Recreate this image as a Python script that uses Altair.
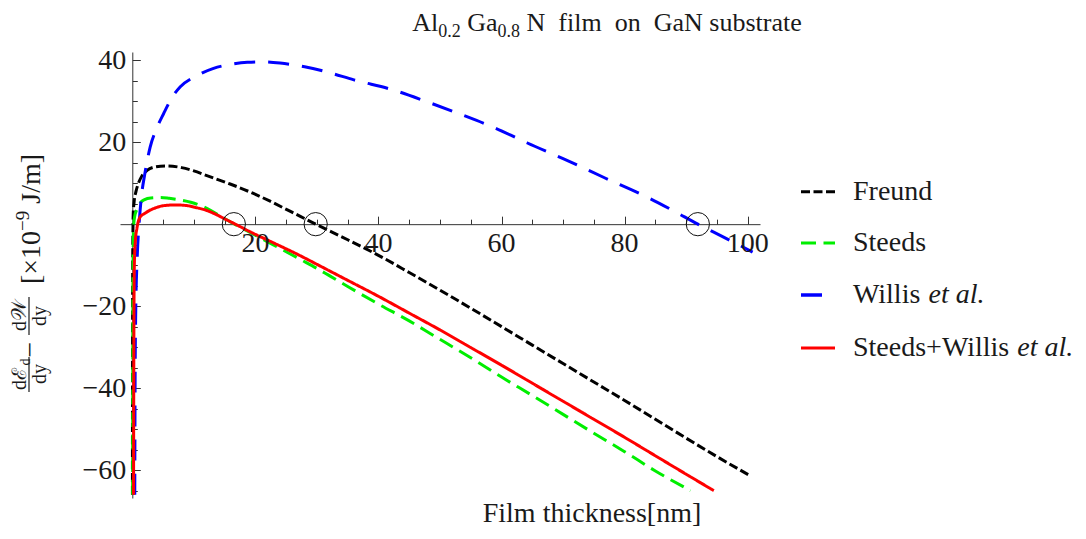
import altair as alt
import pandas as pd

# ---------------- data ----------------
series_names = ["Freund", "Steeds", "Willis et al.", "Steeds+Willis et al."]

freund_x = [0.02, 0.04, 0.06, 0.1, 0.15, 0.3, 0.6, 1, 1.5, 2.4, 3.5, 5.6, 8, 10, 12, 15.9, 19.2,
            22.4, 25.7, 27.3, 29.8, 35, 40, 45, 50, 55, 60, 65, 70, 75, 80, 85, 90, 95, 100.2]
freund_y = [-66, -30, -10, -2, 2.5, 5.5, 8, 10, 11.6, 13.1, 13.9, 14.2, 13.8, 13, 11.9, 9.8, 7.8,
            5.6, 3.1, 1.9, 0, -3.8, -7.6, -11.8, -16.1, -20.5, -25, -29.5, -34, -38.5, -43, -47.6,
            -52.2, -56.7, -61.2]

steeds_x = [0.05, 0.08, 0.12, 0.2, 0.4, 0.75, 1.3, 2, 3, 4.6, 6, 7.8, 9.5, 11, 12.7, 14.3, 16.5,
            18.6, 23, 27.3, 30, 35, 40, 45, 49, 55, 60, 65, 70, 75, 80, 85, 90.7]
steeds_y = [-66, -30, -10, -1, 2, 3.6, 5.2, 6, 6.4, 6.5, 6.3, 5.9, 5.35, 4.6, 3.4, 2.0, 0.1,
            -1.6, -5.1, -8.6, -10.8, -15.2, -19.5, -23.6, -27.2, -32.6, -37.3, -41.8, -46.4, -51,
            -55.5, -60.2, -65]

willis_x = [0.4, 0.45, 0.55, 0.8, 1.1, 1.5, 2, 2.9, 4, 5.1, 6.5, 7.8, 10.6, 13.2, 16, 18.7, 21, 24,
            28, 31.7, 36, 42.5, 48, 53, 58.7, 61.5, 64.2, 70, 76.9, 84.2, 88, 91.9, 96, 100.8]
willis_y = [-66, -40, -22, -8, 0, 7, 12, 18.8, 23.5, 27, 31, 33.5, 36.3, 38, 39, 39.5, 39.6, 39.3,
            38.4, 37.1, 35.2, 32.7, 29.8, 27, 23.6, 21.7, 19.8, 16, 11.2, 6.2, 3.2, 0, -3.1, -6.8]

sw_x = [0.2, 0.25, 0.33, 0.5, 0.75, 1.3, 2, 3, 4, 5, 7, 9, 10.5, 12, 13.7, 15.4, 17, 19.2, 23,
        27.3, 30, 35, 40, 45, 50, 55, 60, 65, 70, 75, 80, 85, 90, 94.5]
sw_y = [-66, -30, -10, -4, -1, 1.8, 2.6, 3.5, 4.1, 4.5, 4.7, 4.5, 4.0, 3.4, 2.3, 1.0, -0.2, -1.9,
        -4.6, -7.7, -9.8, -13.7, -17.6, -21.7, -25.8, -30.1, -34.4, -38.8, -43.2, -47.6, -52,
        -56.5, -61, -65]

root_x = [16.5, 29.8, 91.9]
root_y = [0, 0, 0]

x_major = [20, 40, 60, 80, 100]
x_labels = ["20", "40", "60", "80", "100"]
x_minor = [5, 10, 15, 25, 30, 35, 45, 50, 55, 65, 70, 75, 85, 90, 95]
y_major = [40, 20, -20, -40, -60]
y_labels = ["40", "20", "\u221220", "\u221240", "\u221260"]
y_minor = [35, 30, 25, 15, 10, 5, -5, -10, -15, -25, -30, -35, -45, -50, -55, -65]

# ---------------- style ----------------
FONT = "Liberation Serif"
TXT = "#1a1a1a"
AX = "#333333"
colors = ["#000000", "#00ee00", "#0000ff", "#ff0000"]
dashes = [[9, 3.5], [15, 7.5], [21, 13], [1, 0]]
widths = [3, 3, 3.5, 3]

W, H = 640, 446
XD = [-2.0, 102.0]
YD = [-66.8, 42.0]
X0 = (0 - XD[0]) / (XD[1] - XD[0]) * W
Y0 = (YD[1] - 0) / (YD[1] - YD[0]) * H
L, T = 120, 52  # page position of plot origin


def ax(v):
    return v - L


def ay(v):
    return v - T


CW = {" ": 250, "\u00a0": 250, "A": 722, "l": 278, "0": 500, "1": 500, "2": 500, "8": 500,
      "9": 500, ".": 250, "G": 722, "a": 444, "N": 722, "f": 333, "i": 278, "m": 778, "o": 500,
      "n": 500, "s": 389, "u": 500, "b": 500, "t": 278, "r": 333, "e": 444, "F": 556, "h": 500,
      "c": 444, "k": 500, "[": 333, "]": 333, "\u00d7": 564, "\u2212": 564, "J": 389, "/": 278,
      "y": 500, "d": 500, "S": 556, "W": 944, "+": 564}


def tw(s, size):
    return sum(CW.get(c, 500) for c in s) / 1000.0 * size


# ---------------- tables ----------------
rows = []
for name, xv, yv in [(series_names[0], freund_x, freund_y), (series_names[1], steeds_x, steeds_y),
                     (series_names[2], willis_x, willis_y), (series_names[3], sw_x, sw_y)]:
    for i, (a, b) in enumerate(zip(xv, yv)):
        rows.append({"series": name, "x": a, "y": b, "i": i})
df = pd.DataFrame(rows)
roots = pd.DataFrame({"x": root_x, "y": root_y})
xl = pd.DataFrame({"v": x_major, "t": x_labels})
yl = pd.DataFrame({"v": y_major, "t": y_labels})
one = pd.DataFrame({"k": [0]})

xs = alt.Scale(domain=XD, nice=False, zero=False)
ys = alt.Scale(domain=YD, nice=False, zero=False)

tk = dict(grid=False, title="", labels=False, tickColor=AX, tickWidth=1, domainColor=AX,
          domainWidth=1)
x_min = alt.Axis(orient="top", offset=-Y0, values=x_minor, tickSize=5, domain=True, **tk)
y_min = alt.Axis(orient="right", offset=-(W - X0), values=y_minor, tickSize=5, domain=True, **tk)
x_maj = alt.Axis(orient="top", offset=-Y0, values=x_major, tickSize=8, domain=False, **tk)
y_maj = alt.Axis(orient="right", offset=-(W - X0), values=y_major, tickSize=8, domain=False, **tk)

curves = alt.Chart(df).mark_line(clip=True, interpolate="monotone", strokeCap="butt").encode(
    x=alt.X("x:Q", scale=xs, axis=None),
    y=alt.Y("y:Q", scale=ys, axis=None),
    color=alt.Color("series:N", scale=alt.Scale(domain=series_names, range=colors), legend=None),
    strokeDash=alt.StrokeDash("series:N", scale=alt.Scale(domain=series_names, range=dashes),
                              legend=None),
    strokeWidth=alt.StrokeWidth("series:N", scale=alt.Scale(domain=series_names, range=widths),
                                legend=None),
    order=alt.Order("i:Q"),
)

circles = alt.Chart(roots).mark_point(shape="circle", size=540, filled=False, color="#111111",
                                      strokeWidth=1, opacity=1).encode(
    x=alt.X("x:Q", scale=xs, axis=x_min),
    y=alt.Y("y:Q", scale=ys, axis=y_min),
)

majors = alt.Chart(roots).mark_point(opacity=0).encode(
    x=alt.X("x:Q", scale=xs, axis=x_maj),
    y=alt.Y("y:Q", scale=ys, axis=y_maj),
)

# tick labels placed through the scales
xlabels = alt.Chart(xl).mark_text(font=FONT, fontSize=28, color=TXT, align="center",
                                  baseline="alphabetic").encode(
    x=alt.X("v:Q", scale=xs, axis=None), y=alt.value(ay(252)), text="t:N")
ylabels = alt.Chart(yl).mark_text(font=FONT, fontSize=28, color=TXT, align="right",
                                  baseline="alphabetic", dy=9).encode(
    x=alt.value(X0 - 6), y=alt.Y("v:Q", scale=ys, axis=None), text="t:N")


def text(s, x, y, size, align="left", baseline="alphabetic", angle=0, style="normal"):
    return alt.Chart(one).mark_text(text=s, font=FONT, fontSize=size, align=align,
                                    baseline=baseline, angle=angle, fontStyle=style,
                                    color=TXT).encode(x=alt.value(ax(x)), y=alt.value(ay(y)))


def rule(x1, y1, x2, y2, color, width, dash=None):
    kw = dict(color=color, strokeWidth=width, strokeCap="butt")
    if dash:
        kw["strokeDash"] = dash
    return alt.Chart(one).mark_rule(**kw).encode(
        x=alt.value(ax(x1)), y=alt.value(ay(y1)), x2=alt.value(ax(x2)), y2=alt.value(ay(y2)))


layers = [curves, circles, majors, xlabels, ylabels]

# ---- title with subscripts ----
TF, SF = 26, 18
pieces = [("Al", TF, 0, 0), ("0.2", SF, 6, 0), ("Ga", TF, 0, tw(" ", TF)), ("0.8", SF, 6, 0),
          ("N\u00a0\u00a0film\u00a0\u00a0on\u00a0\u00a0GaN\u00a0substrate", TF, 0, tw(" ", TF))]
total = sum(tw(p[0], p[1]) + p[3] for p in pieces)
cx = 607 - total / 2
for s, f, dy, gap in pieces:
    cx += gap
    layers.append(text(s, cx, 31 + dy, f))
    cx += tw(s, f)

# ---- x axis title ----
layers.append(text("Film thickness[nm]", 592, 514, 28, align="center", baseline="middle"))

# ---- y axis title (rotated) ----
FR = 20
layers += [
    text("d\u2130", 19.5, 379, FR, align="center", baseline="middle", angle=270),
    text("d", 26, 362, 14, align="center", baseline="middle", angle=270),
    text("dy", 39.5, 374, FR, align="center", baseline="middle", angle=270),
    rule(29, 357, 29, 392, TXT, 1.2),
    text("\u2212", 31, 349.5, 28, align="center", baseline="middle", angle=270),
    text("d\U0001D4B2", 19.5, 315.5, FR, align="center", baseline="middle", angle=270),
    text("dy", 39.5, 316, FR, align="center", baseline="middle", angle=270),
    rule(29, 297, 29, 335, TXT, 1.2),
]
yb = 284
layers.append(text("[\u00d710", 32, yb, 28, baseline="middle", angle=270))
yb -= tw("[\u00d710", 28)
layers.append(text("\u22129", 23, yb, 19, baseline="middle", angle=270))
yb -= tw("\u22129", 19) + tw(" ", 28)
layers.append(text("J/m]", 32, yb, 28, baseline="middle", angle=270))

# ---- legend ----
leg_y = [191.7, 243, 295, 348]
leg_end = [835, 835, 832, 835]
for k in range(4):
    layers.append(rule(801, leg_y[k], leg_end[k], leg_y[k], colors[k], widths[k],
                       dashes[k] if k < 3 else None))
LF = 28
layers.append(text("Freund", 853, leg_y[0], LF, baseline="middle"))
layers.append(text("Steeds", 853, leg_y[1], LF, baseline="middle"))
layers.append(text("Willis", 853, leg_y[2], LF, baseline="middle"))
layers.append(text("et al.", 853 + tw("Willis ", LF), leg_y[2], LF, baseline="middle",
                   style="italic"))
layers.append(text("Steeds+Willis", 853, leg_y[3], LF, baseline="middle"))
layers.append(text("et al.", 853 + tw("Steeds+Willis ", LF), leg_y[3], LF, baseline="middle",
                   style="italic"))

chart = alt.layer(*layers).resolve_axis(x="independent", y="independent").properties(
    width=W, height=H,
    background="white",
    autosize=alt.AutoSizeParams(type="none"),
    padding={"left": 112, "top": 44, "right": 314, "bottom": 33},
).configure_view(strokeWidth=0, strokeOpacity=0)

chart.save("out.html", embed_options={"renderer": "svg", "actions": False})
